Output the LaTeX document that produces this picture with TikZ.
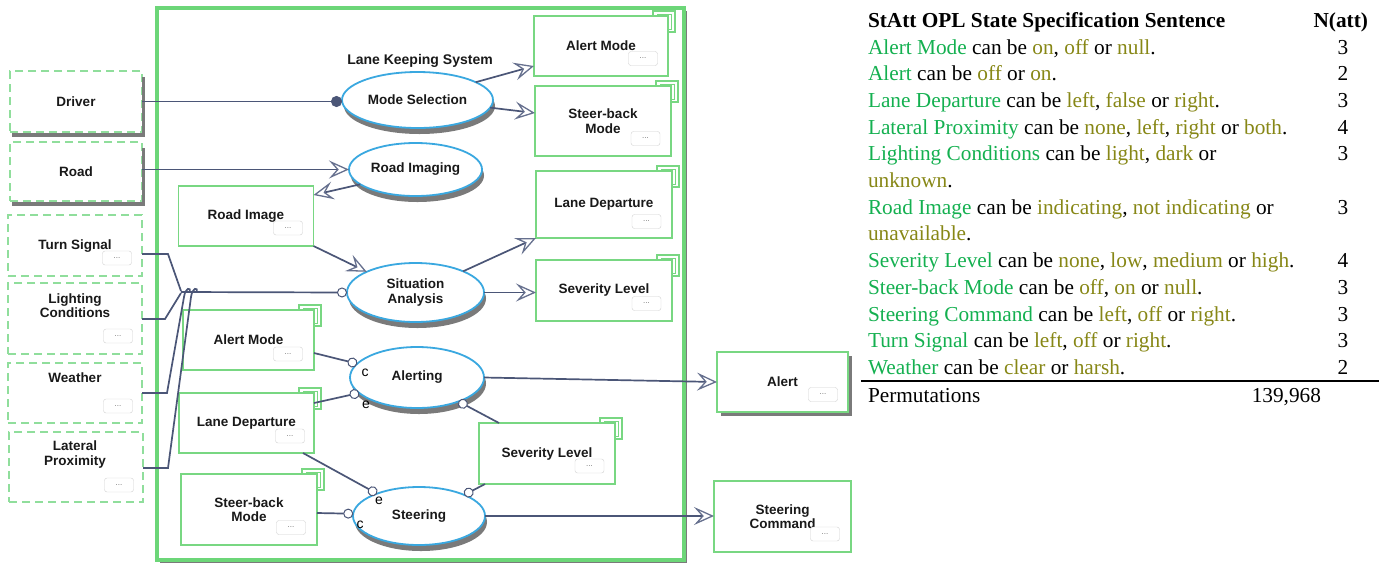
\documentclass[tikz,border=0pt]{standalone}
\usepackage{fontspec}
\setmainfont{Liberation Serif}
\newfontfamily\dfont{Liberation Sans}
\usetikzlibrary{arrows.meta,shapes.geometric,shadows,calc}
\definecolor{objg}{HTML}{78D782}
\definecolor{envg}{HTML}{90DE9C}
\definecolor{boxg}{HTML}{6CD678}
\definecolor{lnk}{HTML}{4B5677}
\definecolor{arw}{HTML}{66708E}
\definecolor{procb}{HTML}{3AA8E0}
\definecolor{shd}{HTML}{7A7A7A}
\definecolor{tgreen}{HTML}{14B050}
\definecolor{tolive}{HTML}{878716}
\newcommand\tG[1]{\textcolor{tgreen}{#1}}
\newcommand\tO[1]{\textcolor{tolive}{#1}}
\newcommand\stk[1]{%
  \draw[stackline] ($(#1.north east)+(-15,0)$) -- ++(0,-5) -- ++(22,0) -- ++(0,21) -- ++(-7,0);
  \draw[stackline, line width=0.8pt] ($(#1.north east)+(-11,0)$) -- ++(0,-2) -- ++(14,0) -- ++(0,15) -- ++(-3,0);}
\begin{document}
\begin{tikzpicture}[x=1pt,y=-1pt,
  every node/.style={inner sep=0pt, outer sep=0pt},
  dtext/.style={font=\dfont\bfseries\fontsize{13.5}{14.5}\selectfont, align=center, text=black!90},
  obj/.style={dtext, draw=objg, line width=1.8pt, fill=white, rectangle},
  env/.style={draw=envg, line width=1.8pt, dash pattern=on 8pt off 5pt, rectangle, fill=white},
  proc/.style={dtext, ellipse, draw=procb, line width=1.8pt, fill=white,
    drop shadow={shadow xshift=2pt, shadow yshift=-6pt, fill=shd, opacity=1}},
  dots/.style={rectangle, rounded corners=2.5pt, draw=black!18, fill=white, minimum width=29pt,
    minimum height=14pt, font=\dfont\fontsize{8}{8}\selectfont, text=black!55},
  link/.style={draw=lnk, line width=1.7pt},
  res/.style={link, -{Stealth[open, length=20pt, width=18pt, inset=8pt, line width=1.3pt, color=arw]}},
  agt/.style={link, -{Circle[length=11pt, fill=lnk]}},
  cnd/.style={link, -{Circle[length=10pt, fill=white, line width=1pt]}},
  stackline/.style={draw=objg, line width=1.3pt},
  clbl/.style={font=\dfont\fontsize{14}{14}\selectfont, text=black},
  tt/.style={font=\fontsize{21.3}{25}\selectfont, anchor=base west},
  tn/.style={font=\fontsize{21.3}{25}\selectfont, anchor=base},
]
\useasboundingbox (0,0) rectangle (1386,566);

% system box
\node[draw=boxg, line width=3.5pt, fill=white, minimum width=527pt, minimum height=552pt,
  drop shadow={shadow xshift=3pt, shadow yshift=-3pt, fill=shd, opacity=1}] (lks) at (420.5,284) {};
\node[dtext, font=\dfont\bfseries\fontsize{14}{14}\selectfont] (lkst) at (420,61) {Lane Keeping System};

% environmental objects
\node[env, dtext, minimum width=132pt, minimum height=61pt] (drv) at (76,101.5) {Driver};
\draw[shd, line width=3.5pt] ($(drv.south west)+(2,3)$) -- ($(drv.south east)+(1.5,3)$) -- ($(drv.north east)+(1.5,6)$);
\node[env, dtext, minimum width=132pt, minimum height=59pt] (rd) at (76,171.5) {Road};
\draw[shd, line width=3.5pt] ($(rd.south west)+(2,3)$) -- ($(rd.south east)+(1.5,3)$) -- ($(rd.north east)+(1.5,6)$);

\node[env, minimum width=134pt, minimum height=61pt] (ts) at (75,245.5) {};
\node[dtext] (tst) at (75,246) {Turn Signal};
\node[dots] (tsd) at (117,258) {...};
\node[env, minimum width=134pt, minimum height=71pt] (lc) at (75,318.5) {};
\node[dtext] (lct) at (75,305.5) {Lighting\\Conditions};
\node[dots] (lcd) at (118,336) {...};
\node[env, minimum width=134pt, minimum height=60pt] (we) at (75,393) {};
\node[dtext] (wet) at (75,377.5) {Weather};
\node[dots] (wed) at (118,406) {...};
\node[env, minimum width=134pt, minimum height=70pt] (lp) at (76,467) {};
\node[dtext] (lpt) at (75,454.5) {Lateral\\Proximity};
\node[dots] (lpd) at (119,485) {...};

% objects
\node[obj, minimum width=134pt, minimum height=60pt] (amR) at (601,46) {Alert Mode};
\node[obj, minimum width=136pt, minimum height=70pt] (sbR) at (603,121) {Steer-back\\Mode};
\node[obj, minimum width=136pt, minimum height=67pt] (ldR) at (604,204.5) {Lane Departure};
\node[obj, minimum width=136pt, minimum height=61pt] (slR) at (604,290.5) {Severity Level};
\node[obj, minimum width=135pt, minimum height=60pt] (ri) at (246,216) {Road Image};
\node[obj, minimum width=131pt, minimum height=60pt] (amL) at (248.5,340) {Alert Mode};
\node[obj, minimum width=135pt, minimum height=60pt] (ldL) at (246.5,423) {Lane Departure};
\node[obj, minimum width=136pt, minimum height=71pt] (sbL) at (249,509.5) {Steer-back\\Mode};
\node[obj, minimum width=136pt, minimum height=61pt] (slM) at (547,453.5) {Severity Level};
\node[obj, minimum width=131pt, minimum height=60pt,
  drop shadow={shadow xshift=4pt, shadow yshift=-4pt, fill=shd, opacity=1}] (alert) at (782.5,382) {Alert};
\node[obj, minimum width=137pt, minimum height=71pt] (sc) at (782.5,516.5) {Steering\\Command};
\stk{amR}\stk{sbR}\stk{ldR}\stk{slR}\stk{amL}\stk{ldL}\stk{sbL}\stk{slM}

\node[dots] (amRd) at (643,58.5) {...};
\node[dots] (sbRd) at (645.5,138.5) {...};
\node[dots] (ldRd) at (646.5,221.5) {...};
\node[dots] (slRd) at (646.5,303.5) {...};
\node[dots] (rid) at (288,228) {...};
\node[dots] (amLd) at (288,354) {...};
\node[dots] (ldLd) at (290,436) {...};
\node[dots] (sbLd) at (291,527.5) {...};
\node[dots] (slMd) at (589.5,466) {...};
\node[dots] (alertd) at (823,394.5) {...};
\node[dots] (scd) at (825,534) {...};

% processes
\node[proc, minimum width=151pt, minimum height=56pt] (ms) at (417.5,100) {Mode Selection};
\node[proc, minimum width=133pt, minimum height=53pt] (rim) at (415.5,169.5) {Road Imaging};
\node[proc, minimum width=137pt, minimum height=59pt] (sa) at (415.5,292.5) {Situation\\Analysis};
\node[proc, minimum width=134pt, minimum height=61pt] (al) at (417,377.5) {Alerting};
\node[proc, minimum width=132pt, minimum height=58pt] (st) at (419,516) {Steering};

% links
\draw[agt] (drv.east) -- (drv.east -| ms.west);
\draw[res] (rim.west -| rd.east) -- (rim.west);
\draw[res] (rim.195) -- ($(ri.north east)+(0,9)$);
\draw[res] (ri.south east) -- (sa.157);
\draw[res] (ms.17) -- ($(amR.south west)+(0,-10)$);
\draw[res] (ms.-6) -- ($(sbR.west)+(0,-8)$);
\draw[res] (sa.24) -- (ldR.south west);
\draw[res] (sa.east) -- (sa.east -| slR.west);
\draw[res] (al.east) -- (alert.west);
\draw[res] (st.east) -- (st.east -| sc.west);

\draw[cnd] ($(amL.east)+(0,13)$) -- (al.167);
\node[clbl] (c1) at (365,373) {c};
\draw[cnd] ($(ldL.north east)+(0,10)$) -- (al.195);
\node[clbl] (e1) at (366,405) {e};
\draw[cnd] ($(slM.north west)+(20,0)$) -- (al.-30);
\draw[cnd] ($(ldL.south east)+(-11,0)$) -- (st.152);
\node[clbl] (e2) at (379,501) {e};
\draw[cnd] ($(slM.south west)+(6,0)$) -- (st.25);
\draw[cnd] ($(sbL.east)+(0,3.5)$) -- (st.178);
\node[clbl] (c2) at (360,525) {c};

% instrument links into Situation Analysis
\coordinate (j0) at (181,292);
\draw[cnd] (j0) -- (sa.west);
\draw[link] ($(ts.east)+(0,8.5)$) -- ++(26,0) -- (181,291);
\draw[link] ($(lc.east)+(0,0.5)$) -- ++(23,0) -- (181,293);
\draw[link] (we.east) -- ++(25,0) -- (184,297) .. controls (185.5,287) and (191,287) .. (190,292);
\draw[link] ($(lp.east)+(0,1)$) -- ++(25,0) -- (191,297) .. controls (192.5,287) and (198,287) .. (197,292);

% table
\node[tt] (h1) at (868,27) {\textbf{StAtt OPL State Specification Sentence}};
\node[tt, anchor=base east] (h2) at (1368,27) {\textbf{N(att)}};
\node[tt] (r1) at (868,54) {\tG{Alert Mode} can be \tO{on}, \tO{off} or \tO{null}.};
\node[tn] (n1) at (1343,54) {3};
\node[tt] (r2) at (868,80) {\tG{Alert} can be \tO{off} or \tO{on}.};
\node[tn] (n2) at (1343,80) {2};
\node[tt] (r3) at (868,107) {\tG{Lane Departure} can be \tO{left}, \tO{false} or \tO{right}.};
\node[tn] (n3) at (1343,107) {3};
\node[tt] (r4) at (868,134) {\tG{Lateral Proximity} can be \tO{none}, \tO{left}, \tO{right} or \tO{both}.};
\node[tn] (n4) at (1343,134) {4};
\node[tt] (r5) at (868,160) {\tG{Lighting Conditions} can be \tO{light}, \tO{dark} or};
\node[tn] (n5) at (1343,160) {3};
\node[tt] (r5b) at (868,187) {\tO{unknown}.};
\node[tt] (r6) at (868,214) {\tG{Road Image} can be \tO{indicating}, \tO{not indicating} or};
\node[tn] (n6) at (1343,214) {3};
\node[tt] (r6b) at (868,240) {\tO{unavailable}.};
\node[tt] (r7) at (868,267) {\tG{Severity Level} can be \tO{none}, \tO{low}, \tO{medium} or \tO{high}.};
\node[tn] (n7) at (1343,267) {4};
\node[tt] (r8) at (868,294) {\tG{Steer-back Mode} can be \tO{off}, \tO{on} or \tO{null}.};
\node[tn] (n8) at (1343,294) {3};
\node[tt] (r9) at (868,321) {\tG{Steering Command} can be \tO{left}, \tO{off} or \tO{right}.};
\node[tn] (n9) at (1343,321) {3};
\node[tt] (r10) at (868,347) {\tG{Turn Signal} can be \tO{left}, \tO{off} or \tO{right}.};
\node[tn] (n10) at (1343,347) {3};
\node[tt] (r11) at (868,374) {\tG{Weather} can be \tO{clear} or \tO{harsh}.};
\node[tn] (n11) at (1343,374) {2};
\coordinate (rl) at (861,381);
\coordinate (rr) at (1379,381);
\draw[line width=2pt] (rl) -- (rr);
\node[tt] (pm) at (868,402) {Permutations};
\node[tt, anchor=base east] (pv) at (1321,402) {139,968};
\end{tikzpicture}
\end{document}
